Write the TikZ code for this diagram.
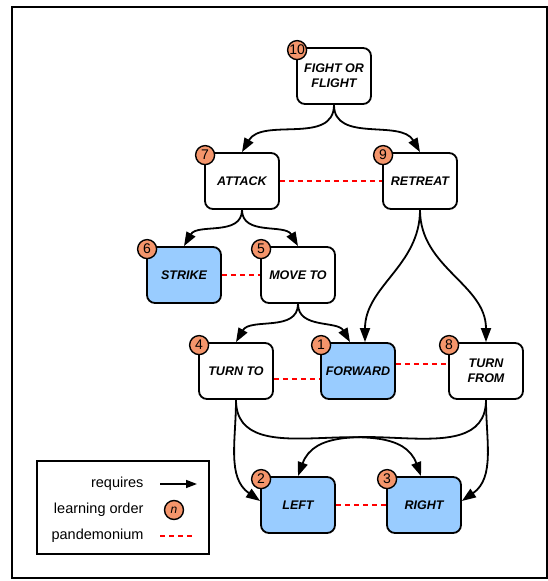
\documentclass[tikz,border=0pt]{standalone}
\usepackage{fontspec}
\setmainfont{Liberation Sans}
\usetikzlibrary{arrows.meta}
\definecolor{primblue}{HTML}{99CCFF}
\definecolor{orderorange}{HTML}{F4956B}

\begin{document}
\begin{tikzpicture}[x=1pt, y=1pt,
    behav/.style={draw, line width=1.8pt, rounded corners=8pt, fill=white,
      minimum width=74pt, minimum height=56pt, inner sep=0pt, align=center,
      font=\fontsize{12.5}{15}\selectfont\bfseries\itshape},
    prim/.style={behav, fill=primblue},
    order/.style={circle, draw, line width=1.4pt, fill=orderorange,
      minimum size=19pt, inner sep=0pt, font=\fontsize{14}{14}\selectfont},
    req/.style={-{Triangle[length=14pt,width=10pt]}, line width=1.8pt},
    pand/.style={red, line width=1.8pt, dash pattern=on 5pt off 4pt},
    legtext/.style={anchor=east, font=\fontsize{14.5}{16}\selectfont}]
    \useasboundingbox (0,0) rectangle (548,581);
    \draw[line width=1.8pt] (12,574) rectangle (547,3);

    % Behaviours
    \node[behav] (fof) at (334,505) {FIGHT OR\\FLIGHT};
    \node[behav] (attack) at (242,400) {ATTACK};
    \node[behav] (retreat) at (420,400) {RETREAT};
    \node[prim] (strike) at (184,306) {STRIKE};
    \node[behav] (moveto) at (298,306) {MOVE TO};
    \node[behav] (turnto) at (236,210) {TURN TO};
    \node[prim] (forward) at (358,210) {FORWARD};
    \node[behav] (turnfrom) at (486,210) {TURN\\FROM};
    \node[prim] (left) at (298,76) {LEFT};
    \node[prim] (right) at (424,76) {RIGHT};

    % Requires
    \draw[req] (fof.south) to[out=-90, in=60] (attack.north);
    \draw[req] (fof.south) to[out=-90, in=120] (retreat.north);
    \draw[req] (attack.south) to[out=-90, in=60] (strike.north);
    \draw[req] (attack.south) to[out=-90, in=120] (moveto.north);
    \draw[req] (moveto.south) to[out=-90, in=60] (turnto.north);
    \draw[req] (moveto.south) to[out=-90, in=120] ([xshift=-8pt]forward.north);
    \draw[req] (retreat.south) to[out=-90, in=90] ([xshift=7pt]forward.north);
    \draw[req] (retreat.south) to[out=-90, in=90] (turnfrom.north);
    \draw[req] (turnto.south) to[out=-90, in=145] ([yshift=4pt]left.west);
    \draw[req] (turnto.south) to[out=-90, in=110] ([xshift=-3pt]right.north);
    \draw[req] (turnfrom.south) to[out=-90, in=70] (left.north);
    \draw[req] (turnfrom.south) to[out=-90, in=35] ([yshift=4pt]right.east);

    % Pandemonium
    \draw[pand] (attack.east) -- (retreat.west);
    \draw[pand] (strike.east) -- (moveto.west);
    \draw[pand] ([yshift=-8pt]turnto.east) -- ([yshift=-8pt]forward.west);
    \draw[pand] ([yshift=7pt]forward.east) -- ([yshift=7pt]turnfrom.west);
    \draw[pand] (left.east) -- (right.west);

    % Learning order
    \node[order] (o10) at ([shift={(1pt,-3pt)}]fof.north west) {10};
    \node[order] (o7) at ([shift={(1pt,-3pt)}]attack.north west) {7};
    \node[order] (o9) at ([shift={(1pt,-3pt)}]retreat.north west) {9};
    \node[order] (o6) at ([shift={(1pt,-3pt)}]strike.north west) {6};
    \node[order] (o5) at ([shift={(1pt,-3pt)}]moveto.north west) {5};
    \node[order] (o4) at ([shift={(1pt,-3pt)}]turnto.north west) {4};
    \node[order] (o1) at ([shift={(1pt,-3pt)}]forward.north west) {1};
    \node[order] (o8) at ([shift={(1pt,-3pt)}]turnfrom.north west) {8};
    \node[order] (o2) at ([shift={(1pt,-3pt)}]left.north west) {2};
    \node[order] (o3) at ([shift={(1pt,-3pt)}]right.north west) {3};

    % Legend
    \draw[line width=1.8pt] (37,120) rectangle (209,27);
    \node[legtext] (lreq) at (147,97) {requires};
    \node[legtext] (lord) at (147,71) {learning order};
    \node[legtext] (lpan) at (147,45) {pandemonium};
    \coordinate (reqa) at (160,97);
    \coordinate (reqb) at (197,97);
    \draw[-{Triangle[length=11pt,width=8pt]}, line width=1.5pt] (reqa) -- (reqb);
    \node[order, font=\fontsize{12}{12}\selectfont\itshape] (lbadge) at (174,71) {n};
    \coordinate (pana) at (160,45);
    \coordinate (panb) at (193,45);
    \draw[pand] (pana) -- (panb);
\end{tikzpicture}
\end{document}
